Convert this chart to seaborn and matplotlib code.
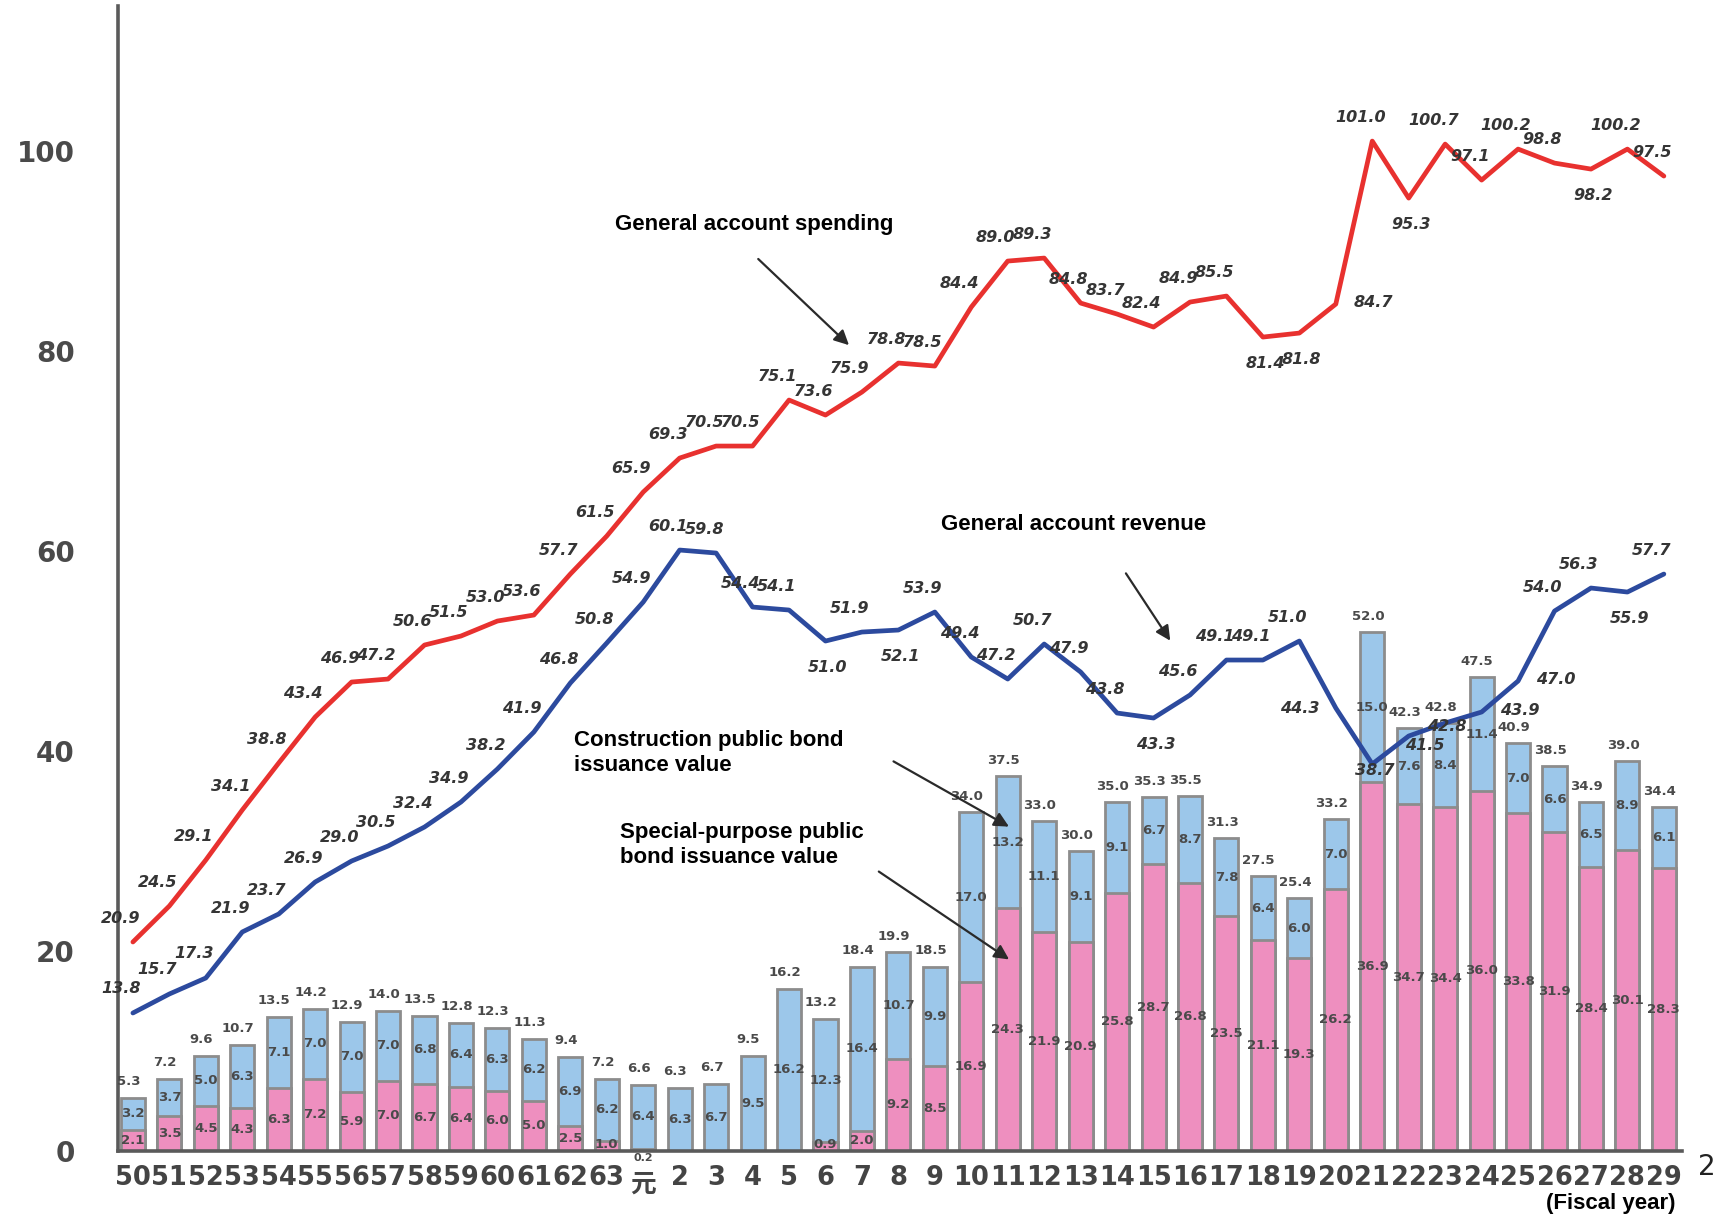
"""
General account spending / revenue and bond issuance (trillion yen), FY Showa 50 - Heisei 29
"""
import matplotlib
matplotlib.use('Agg')
import matplotlib.pyplot as plt
import matplotlib.transforms as mtransforms
import seaborn as sns
import numpy as np

# fiscal years (Showa 50-63, Heisei 元-29)
years = ['50', '51', '52', '53', '54', '55', '56', '57', '58', '59', '60', '61', '62', '63',
         '元', '2', '3', '4', '5', '6', '7', '8', '9', '10', '11', '12', '13', '14', '15',
         '16', '17', '18', '19', '20', '21', '22', '23', '24', '25', '26', '27', '28', '29']

spending = [20.9, 24.5, 29.1, 34.1, 38.8, 43.4, 46.9, 47.2, 50.6, 51.5, 53.0, 53.6, 57.7, 61.5,
            65.9, 69.3, 70.5, 70.5, 75.1, 73.6, 75.9, 78.8, 78.5, 84.4, 89.0, 89.3, 84.8, 83.7,
            82.4, 84.9, 85.5, 81.4, 81.8, 84.7, 101.0, 95.3, 100.7, 97.1, 100.2, 98.8, 98.2,
            100.2, 97.5]

revenue = [13.8, 15.7, 17.3, 21.9, 23.7, 26.9, 29.0, 30.5, 32.4, 34.9, 38.2, 41.9, 46.8, 50.8,
           54.9, 60.1, 59.8, 54.4, 54.1, 51.0, 51.9, 52.1, 53.9, 49.4, 47.2, 50.7, 47.9, 43.8,
           43.3, 45.6, 49.1, 49.1, 51.0, 44.3, 38.7, 41.5, 42.8, 43.9, 47.0, 54.0, 56.3, 55.9,
           57.7]

construction = [3.2, 3.7, 5.0, 6.3, 7.1, 7.0, 7.0, 7.0, 6.8, 6.4, 6.3, 6.2, 6.9, 6.2,
                6.4, 6.3, 6.7, 9.5, 16.2, 12.3, 16.4, 10.7, 9.9, 17.0, 13.2, 11.1, 9.1, 9.1,
                6.7, 8.7, 7.8, 6.4, 6.0, 7.0, 15.0, 7.6, 8.4, 11.4, 7.0, 6.6, 6.5, 8.9, 6.1]

special = [2.1, 3.5, 4.5, 4.3, 6.3, 7.2, 5.9, 7.0, 6.7, 6.4, 6.0, 5.0, 2.5, 1.0,
           0.2, 0.0, 0.0, 0.0, 0.0, 0.9, 2.0, 9.2, 8.5, 16.9, 24.3, 21.9, 20.9, 25.8,
           28.7, 26.8, 23.5, 21.1, 19.3, 26.2, 36.9, 34.7, 34.4, 36.0, 33.8, 31.9, 28.4,
           30.1, 28.3]

total_labels = ['5.3', '7.2', '9.6', '10.7', '13.5', '14.2', '12.9', '14.0', '13.5', '12.8',
                '12.3', '11.3', '9.4', '7.2', '6.6', '6.3', '6.7', '9.5', '16.2', '13.2', '18.4',
                '19.9', '18.5', '34.0', '37.5', '33.0', '30.0', '35.0', '35.3', '35.5', '31.3',
                '27.5', '25.4', '33.2', '52.0', '42.3', '42.8', '47.5', '40.9', '38.5', '34.9',
                '39.0', '34.4']

# label placement for the line values (a=above, b=below, r=right, l=left, c=on the point)
spend_pos = ['a'] * len(years)
for i in (31, 32, 35, 40):
    spend_pos[i] = 'b'
spend_pos[33] = 'r'

rev_pos = ['a'] * len(years)
for i in (19, 21, 28, 41):
    rev_pos[i] = 'b'
rev_pos[33] = 'l'
rev_pos[34] = 'c'
rev_pos[35] = 'c2'
rev_pos[36] = 'c3'
rev_pos[37] = 'r'
rev_pos[38] = 'r'

OFFSETS = {'a': (-12, 24), 'b': (2, -26), 'r': (38, 2), 'l': (-36, 0), 'c': (2, -6),
           'c2': (16, -9), 'c3': (2, -3)}

RED = '#e8312f'
BLUE = '#2c4a9e'
BAR_BLUE = '#9cc7ea'
BAR_PINK = '#ee8fbf'
EDGE = '#8c8c8c'

sns.set_theme(style='white')
plt.rcParams['font.family'] = ['DejaVu Sans', 'Noto Sans CJK JP']

fig = plt.figure(figsize=(17.27, 12.19), dpi=100)
ax = fig.add_axes([0.0683, 0.0558, 0.9057, 0.9392])

x = np.arange(len(years))
bar_total = np.array(construction) + np.array(special)

# stacked bars: full height in blue, pink special-purpose part drawn over it
sns.barplot(x=years, y=bar_total, order=years, color=BAR_BLUE, saturation=1,
            width=0.66, edgecolor=EDGE, linewidth=2, ax=ax)
sns.barplot(x=years, y=special, order=years, color=BAR_PINK, saturation=1,
            width=0.66, edgecolor=EDGE, linewidth=2, ax=ax)

sns.lineplot(x=x, y=spending, color=RED, linewidth=3.4, ax=ax)
sns.lineplot(x=x, y=revenue, color=BLUE, linewidth=3.4, ax=ax)

line_font = dict(fontsize=11.5, fontweight='bold', fontstyle='italic', color='#353535',
                 ha='center', va='center')
for xi, v, p in zip(x, spending, spend_pos):
    ax.annotate(f'{v:.1f}', (xi, v), xytext=OFFSETS[p], textcoords='offset pixels', **line_font)
for xi, v, p in zip(x, revenue, rev_pos):
    ax.annotate(f'{v:.1f}', (xi, v), xytext=OFFSETS[p], textcoords='offset pixels', **line_font)

bar_font = dict(fontsize=9.5, fontweight='bold', color='#4a4a4a', ha='center', va='center')
for xi, c, s, t, lab in zip(x, construction, special, bar_total, total_labels):
    ax.text(xi - 0.12, t + 1.6, lab, **bar_font)
    ax.text(xi, s + c / 2, f'{c:.1f}', **bar_font)
    if s >= 1.5:
        ax.text(xi, s / 2, f'{s:.1f}', **bar_font)
    elif s >= 0.5:
        ax.text(xi, 0.6, f'{s:.1f}', **bar_font)
    elif s > 0:
        ax.text(xi, -0.75, f'{s:.1f}', clip_on=False,
                **{**bar_font, 'fontsize': 8})

# callouts
note = dict(fontsize=16, fontweight='bold', color='black', family='Liberation Sans')
arrow = dict(arrowstyle='-|>', color='#2a2a2a', lw=1.6, mutation_scale=22)
ax.text(17.05, 92.7, 'General account spending', ha='center', va='center', **note)
ax.annotate('', xy=(19.7, 80.4), xytext=(17.1, 89.4), arrowprops=arrow)
ax.text(25.8, 62.7, 'General account revenue', ha='center', va='center', **note)
ax.annotate('', xy=(28.5, 50.8), xytext=(27.2, 58.0), arrowprops=arrow)
ax.text(12.1, 39.8, 'Construction public bond\nissuance value', ha='left', va='center',
        linespacing=1.25, **note)
ax.annotate('', xy=(24.1, 32.3), xytext=(20.8, 39.1), arrowprops=arrow)
ax.text(13.37, 30.6, 'Special-purpose public\nbond issuance value', ha='left', va='center',
        linespacing=1.25, **note)
ax.annotate('', xy=(24.1, 19.0), xytext=(20.4, 28.1), arrowprops=arrow)

fig.text(1611 / 1727, 15 / 1219, '(Fiscal year)', ha='center', va='center', **note)
fig.text(1707 / 1727, 52 / 1219, '2', ha='center', va='center', fontsize=20, color='#222')

# axes styling
ax.set_xlim(-0.41, 42.5)
ax.set_ylim(0, 114.5)
ax.set_yticks([0, 20, 40, 60, 80, 100])
ax.tick_params(axis='y', direction='in', length=10, width=1.2, color='#888', pad=31,
               labelsize=20, labelcolor='#4a4a4a')
for t in ax.get_yticklabels():
    t.set_fontweight('bold')
ax.set_xticks(x)
ax.set_xticklabels(years)
ax.tick_params(axis='x', which='major', length=0, pad=10, labelsize=18.5, labelcolor='#444')
for t in ax.get_xticklabels():
    t.set_fontweight('bold')
    if t.get_text() == '元':
        # nudge the era label down, clear of the tiny 0.2 value
        t.set_transform(t.get_transform() +
                        mtransforms.ScaledTranslation(0, -5 / 72, fig.dpi_scale_trans))
ax.set_xticks(x[:-1] + 0.5, minor=True)
ax.tick_params(axis='x', which='minor', direction='in', length=6, width=1.2, color='#777')
ax.set_xlabel('')
ax.set_ylabel('')
sns.despine(ax=ax, top=True, right=True)
for side in ('left', 'bottom'):
    ax.spines[side].set_color('#5a5a5a')
    ax.spines[side].set_linewidth(2.6)

fig.savefig('out.png', dpi=100)
plt.close(fig)
